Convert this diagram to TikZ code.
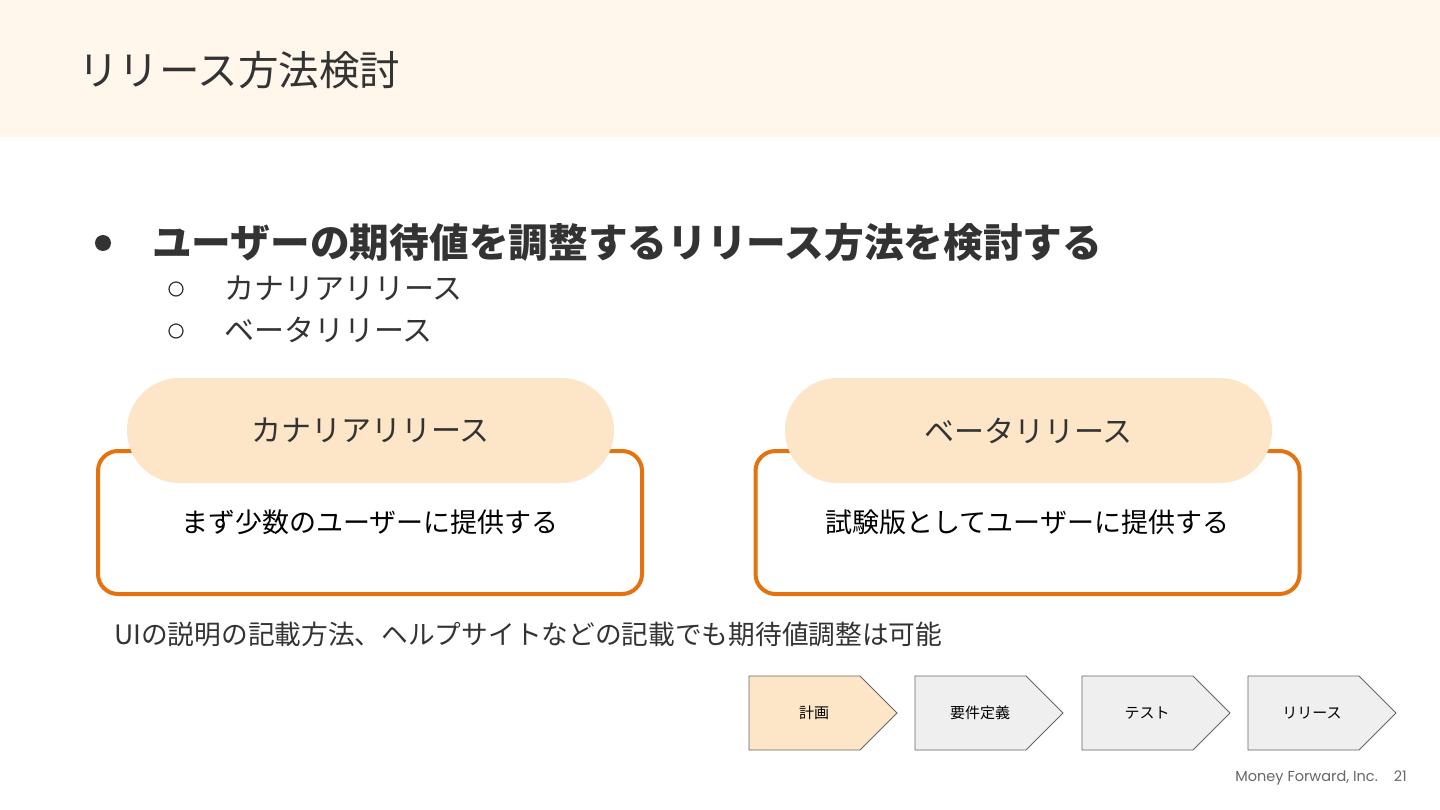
\documentclass[tikz,border=0pt]{standalone}
\usepackage{fontspec}
\setmainfont{Noto Sans CJK JP}
\newfontfamily\footfont{Poppins}
\usetikzlibrary{shapes.misc}
\definecolor{headerbg}{HTML}{FFF6EC}
\definecolor{pillbg}{HTML}{FDE5C7}
\definecolor{boxorange}{HTML}{E3720F}
\definecolor{darktxt}{HTML}{333333}
\definecolor{stepgray}{HTML}{EFEFEF}
\definecolor{stepline}{HTML}{666666}
\definecolor{foottxt}{HTML}{666666}
\tikzset{
  obox/.style={draw=boxorange, line width=4pt, rounded corners=20pt, fill=white,
    minimum width=544pt, minimum height=143pt, inner sep=0pt,
    font=\fontsize{27}{27}\selectfont, text=black},
  pill/.style={rounded rectangle, fill=pillbg, draw=none, minimum width=487pt,
    minimum height=105pt, inner sep=0pt, font=\fontsize{30}{30}\selectfont, text=darktxt},
  stepshape/.style={draw=stepline, line width=0.8pt, fill=stepgray},
  steptxt/.style={inner sep=0pt, font=\fontsize{15}{15}\selectfont, text=black},
  subtxt/.style={anchor=west, font=\fontsize{30}{30}\selectfont, text=darktxt, inner sep=0pt},
}
\newcommand{\stepchev}[2]{%
  \path[stepshape,#2] (#1,676) -- ++(111,0) -- ++(37,37) -- ++(-37,37) -- ++(-111,0) -- cycle;}
\begin{document}
\begin{tikzpicture}[x=1pt,y=-1pt]
\useasboundingbox (0,0) rectangle (1440,810);
\fill[white] (0,0) rectangle (1440,810);
\fill[headerbg] (0,0) rectangle (1440,137);
\node[anchor=west, inner sep=0pt, font=\fontsize{40.5}{40}\selectfont, text=darktxt] (title) at (78,70) {リリース方法検討};

% bullets
\fill[darktxt] (103,243) circle (8);
\node[anchor=west, inner sep=0pt, font=\fontsize{39.7}{40}\selectfont\bfseries, text=darktxt] (mainpt) at (152,242) {ユーザーの期待値を調整するリリース方法を検討する};
\draw[darktxt, line width=1.2pt] (176,289) circle (7);
\node[subtxt] (sub1) at (224,288) {カナリアリリース};
\draw[darktxt, line width=1.2pt] (176,331) circle (7);
\node[subtxt] (sub2) at (224,330) {ベータリリース};

% boxes
\node[obox] (canbox) at (370,522.5) {まず少数のユーザーに提供する};
\node[pill] (canpill) at (370.5,430.5) {カナリアリリース};
\node[obox] (betabox) at (1027.5,522.5) {試験版としてユーザーに提供する};
\node[pill] (betapill) at (1028.5,430.5) {ベータリリース};

% note
\node[anchor=west, inner sep=0pt, font=\fontsize{26.7}{27}\selectfont, text=darktxt] (note) at (114,634) {UIの説明の記載方法、ヘルプサイトなどの記載でも期待値調整は可能};

% steps
\stepchev{749}{fill=pillbg}
\stepchev{915}{}
\stepchev{1082}{}
\stepchev{1248}{}
\node[steptxt] (s1) at (814,713) {計画};
\node[steptxt] (s2) at (980,713) {要件定義};
\node[steptxt] (s3) at (1147,713) {テスト};
\node[steptxt] (s4) at (1312,713) {リリース};

% footer
\node[anchor=east, inner sep=0pt, font=\footfont\fontsize{14.5}{14}\selectfont, text=foottxt] (foot) at (1407,778) {Money Forward, Inc.\hspace{16pt}21};
\end{tikzpicture}
\end{document}
